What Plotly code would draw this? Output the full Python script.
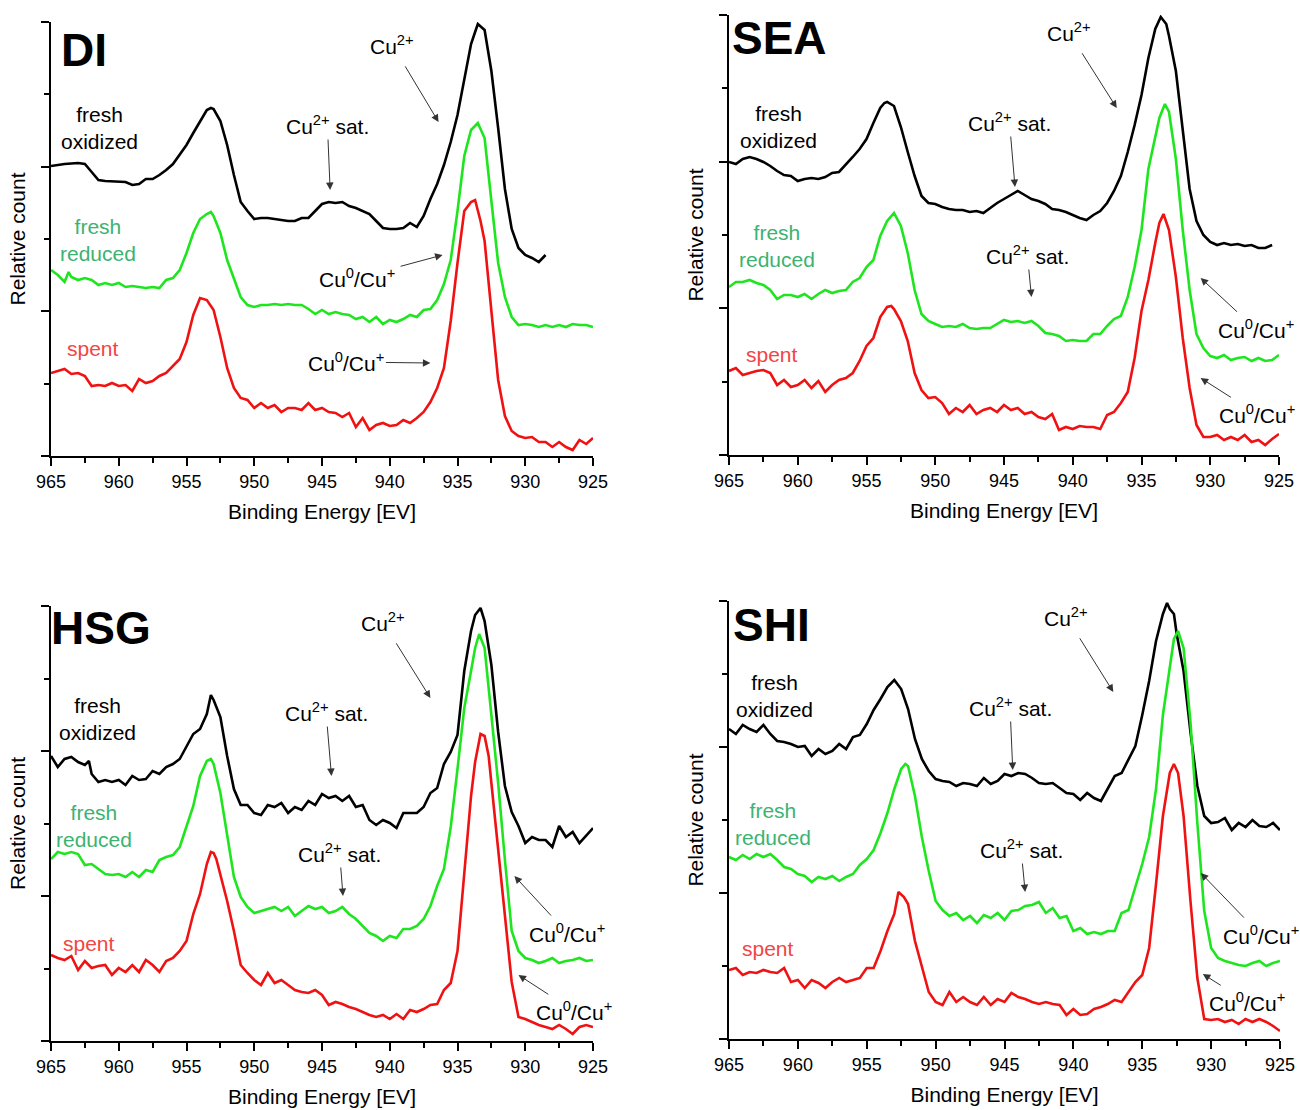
import plotly.graph_objects as go

# ---------------- data: (binding energy [eV], relative count [a.u.]) ----------------
di_fresh_ox = [(965,290),(964,292),(963,293),(962.5,292),(962,284),(961.5,276),(961,275),(960,274),(959.5,274),(959,271),
    (958.5,272),(958,277),(957.5,277),(957,281),(956.5,286),(956,292),(955.5,301),(955,311),(954.5,323),(954,335),
    (953.5,346),(953.2,348),(953,347),(952.5,335),(952,311),(951.5,281),(951,254),(950.5,245),(950,237),(949.5,238),
    (949,238),(948.5,237),(948,236),(947.5,235),(947,235),(946.5,238),(946,238),(945.5,245),(945,252),(944.5,254),
    (944,253),(943.5,254),(943,250),(942.5,248),(942,245),(941.5,242),(941,235),(940.5,228),(940,227),(939.5,227),
    (939,228),(938.5,233),(938,229),(937.5,240),(937,257),(936.5,272),(936,291),(935.5,314),(935,341),(934.5,377),
    (934,412),(933.7,424),(933.5,432),(933,426),(932.5,385),(932,328),(931.5,267),(931,227),(930.5,208),(930,201),
    (929.5,198),(929,194),(928.5,201)]
di_fresh_red = [(965,186),(964.5,181),(964,174),(963.7,184),(963.5,179),(963,176),(962.5,178),(962,176),(961.5,171),(961,173),
    (960.5,171),(960,173),(959.5,169),(959,170),(958.5,169),(958,168),(957.5,169),(957,168),(956.5,176),(956,178),
    (955.5,186),(955,203),(954.5,223),(954,237),(953.5,242),(953.2,244),(953,240),(952.5,223),(952,196),(951.5,178),
    (951,159),(950.5,151),(950,149),(949.5,151),(949,151),(948.5,152),(948,151),(947.5,152),(947,151),(946.5,151),
    (946,147),(945.5,142),(945,146),(944.5,142),(944,144),(943.5,142),(943,141),(942.5,137),(942,139),(941.5,134),
    (941,139),(940.5,132),(940,136),(939.5,134),(939,137),(938.5,141),(938,139),(937.5,146),(937,147),(936.5,156),
    (936,172),(935.5,196),(935,245),(934.5,300),(934,326),(933.5,333),(933,318),(932.5,255),(932,193),(931.5,159),
    (931,139),(930.5,131),(930,132),(929.5,131),(929,129),(928.5,131),(928,129),(927.5,131),(927,129),(926.5,132),
    (926,131),(925.5,131),(925,129)]
di_spent = [(965,83),(964.5,85),(964,87),(963.5,82),(963,83),(962.5,80),(962,70),(961.5,71),(961,70),(960.5,73),
    (960,70),(959.5,71),(959,65),(958.5,77),(958,73),(957.5,75),(957,80),(956.5,83),(956,90),(955.5,97),
    (955,114),(954.5,141),(954,158),(953.5,156),(953,146),(952.5,119),(952,88),(951.5,68),(951,58),(950.5,56),
    (950,48),(949.5,53),(949,48),(948.5,51),(948,44),(947.5,48),(947,48),(946.5,46),(946,53),(945.5,46),
    (945,48),(944.5,44),(944,43),(943.5,39),(943,43),(942.5,29),(942,38),(941.5,26),(941,31),(940.5,33),
    (940,30),(939.5,31),(939,36),(938.5,33),(938,38),(937.5,44),(937,54),(936.5,68),(936,88),(935.5,135),
    (935,193),(934.5,245),(934,254),(933.7,256),(933.3,235),(933,215),(932.5,145),(932,76),(931.5,40),(931,25),
    (930.5,20),(930,18),(929.5,19),(929,14),(928.5,14),(928,9),(927.5,14),(927,9),(926.5,6),(926,16),
    (925.5,12),(925,18)]

sea_fresh_ox = [(965,293),(964.5,291),(964,296),(963.5,298),(963,296),(962.5,293),(962,289),(961.5,284),(961,280),(960.5,279),
    (960,274),(959.5,276),(959,277),(958.5,276),(958,278),(957.5,282),(957,283),(956.5,290),(956,298),(955.5,306),
    (955,316),(954.5,332),(954,347),(953.7,352),(953.5,353),(953,349),(952.5,328),(952,303),(951.5,279),(951,259),
    (950.5,252),(950,251),(949.5,248),(949,246),(948.5,245),(948,245),(947.5,243),(947,244),(946.5,242),(946,247),
    (945.5,252),(945,256),(944.5,260),(944,264),(943.5,260),(943,256),(942.5,254),(942,251),(941.5,246),(941,245),
    (940.5,243),(940,240),(939.5,237),(939,235),(938.5,240),(938,244),(937.5,252),(937,264),(936.5,279),(936,303),
    (935.5,330),(935,360),(934.5,397),(934,426),(933.6,438),(933.2,431),(933,419),(932.5,384),(932,323),(931.5,266),
    (931,234),(930.5,220),(930,213),(929.5,210),(929,212),(928.5,210),(928,211),(927.5,209),(927,210),(926.5,207),
    (926,207),(925.5,210)]
sea_fresh_red = [(965,168),(964.5,173),(964,173),(963.5,175),(963,172),(962.5,170),(962,165),(961.5,156),(961,160),(960.5,160),
    (960,158),(959.5,161),(959,156),(958.5,161),(958,165),(957.5,162),(957,164),(956.5,165),(956,173),(955.5,177),
    (955,188),(954.5,195),(954,219),(953.5,234),(953,242),(952.5,229),(952,202),(951.5,165),(951,141),(950.5,134),
    (950,131),(949.5,128),(949,129),(948.5,128),(948,131),(947.5,127),(947,126),(946.5,127),(946,127),(945.5,131),
    (945,135),(944.5,133),(944,134),(943.5,132),(943,134),(942.5,129),(942,122),(941.5,121),(941,119),(940.5,114),
    (940,115),(939.5,114),(939,114),(938.5,121),(938,121),(937.5,129),(937,136),(936.5,139),(936,158),(935.5,188),
    (935,225),(934.5,286),(934,318),(933.7,337),(933.3,351),(933,343),(932.5,296),(932,225),(931.5,165),(931,121),
    (930.5,107),(930,99),(929.5,97),(929,100),(928.5,95),(928,97),(927.5,98),(927,94),(926.5,97),(926,94),
    (925.5,95),(925,100)]
sea_spent = [(965,84),(964.5,87),(964,80),(963.5,82),(963,84),(962.5,85),(962,82),(961.5,70),(961,75),(960.5,68),
    (960,70),(959.5,75),(959,67),(958.5,74),(958,63),(957.5,70),(957,75),(956.5,77),(956,82),(955.5,94),
    (955,109),(954.5,117),(954,138),(953.5,148),(953.2,149),(953,146),(952.5,134),(952,114),(951.5,82),(951,65),
    (950.5,57),(950,58),(949.5,52),(949,41),(948.5,47),(948,43),(947.5,50),(947,41),(946.5,45),(946,47),
    (945.5,43),(945,50),(944.5,45),(944,47),(943.5,41),(943,43),(942.5,38),(942,36),(941.5,41),(941,25),
    (940.5,28),(940,26),(939.5,29),(939,28),(938.5,28),(938,26),(937.5,40),(937,43),(936.5,52),(936,63),
    (935.5,97),(935,144),(934.5,175),(934,212),(933.7,232),(933.4,241),(933,225),(932.5,178),(932,117),(931.5,67),
    (931,30),(930.5,18),(930,18),(929.5,20),(929,15),(928.5,18),(928,15),(927.5,20),(927,13),(926.5,15),
    (926,10),(925.5,16),(925,21)]

hsg_fresh_ox = [(965,285),(964.5,274),(964,282),(963.5,284),(963,279),(962.5,276),(962.2,280),(962,267),(961.5,259),(961,261),
    (960.5,259),(960,261),(959.5,256),(959,265),(958.5,261),(958,262),(957.5,270),(957,267),(956.5,274),(956,277),
    (955.5,282),(955,294),(954.5,307),(954,312),(953.5,327),(953.2,346),(953,341),(952.5,324),(952,285),(951.5,252),
    (951,236),(950.5,236),(950,228),(949.5,226),(949,236),(948.5,234),(948,238),(947.5,228),(947,234),(946.5,231),
    (946,240),(945.5,236),(945,247),(944.5,243),(944,245),(943.5,240),(943,245),(942.5,234),(942,236),(941.5,221),
    (941,216),(940.5,221),(940,218),(939.5,213),(939,228),(938.5,228),(938,228),(937.5,234),(937,248),(936.5,253),
    (936,277),(935.5,289),(935,306),(934.5,370),(934,410),(933.7,426),(933.3,433),(933,420),(932.5,376),(932,309),
    (931.5,255),(931,229),(930.5,215),(930,198),(929.5,204),(929,201),(928.5,201),(928,194),(927.5,215),(927,204),
    (926.5,209),(926,198),(925.5,206),(925,213)]
hsg_fresh_red = [(965,182),(964.5,189),(964,187),(963.5,189),(963,187),(962.5,176),(962,177),(961.5,172),(961,167),(960.5,166),
    (960,167),(959.5,164),(959,169),(958.5,164),(958,171),(957.5,169),(957,181),(956.5,184),(956,186),(955.5,194),
    (955,214),(954.5,235),(954,265),(953.5,280),(953.2,282),(953,277),(952.5,248),(952,204),(951.5,164),(951,144),
    (950.5,134),(950,128),(949.5,130),(949,132),(948.5,134),(948,130),(947.5,134),(947,125),(946.5,130),(946,135),
    (945.5,132),(945,134),(944.5,128),(944,130),(943.5,134),(943,127),(942.5,122),(942,115),(941.5,108),(941,105),
    (940.5,100),(940,105),(939.5,103),(939,112),(938.5,112),(938,115),(937.5,122),(937,135),(936.5,155),(936,172),
    (935.5,214),(935,272),(934.5,333),(934,370),(933.7,393),(933.4,407),(933,393),(932.5,326),(932,258),(931.5,181),
    (931,110),(930.5,90),(930,83),(929.5,81),(929,78),(928.5,80),(928,83),(927.5,78),(927,80),(926.5,81),
    (926,83),(925.5,80),(925,81)]
hsg_spent = [(965,86),(964.5,83),(964,81),(963.5,85),(963,71),(962.5,80),(962,73),(961.5,75),(961,76),(960.5,66),
    (960,73),(959.5,69),(959,76),(958.5,69),(958,81),(957.5,76),(957,69),(956.5,80),(956,83),(955.5,90),
    (955,100),(954.5,127),(954,147),(953.5,177),(953.2,189),(953,188),(952.8,182),(952.5,167),(952,140),(951.5,110),
    (951,76),(950.5,68),(950,61),(949.5,56),(949,68),(948.5,58),(948,61),(947.5,56),(947,51),(946.5,49),
    (946,48),(945.5,51),(945,46),(944.5,36),(944,39),(943.5,37),(943,34),(942.5,32),(942,29),(941.5,26),
    (941,24),(940.5,26),(940,22),(939.5,27),(939,22),(938.5,31),(938,29),(937.5,32),(937,36),(936.5,37),
    (936,51),(935.5,58),(935,90),(934.5,164),(934,245),(933.7,279),(933.3,307),(933,305),(932.7,285),(932.5,258),
    (932,194),(931.5,123),(931,59),(930.5,24),(930,22),(929.5,19),(929,16),(928.5,14),(928,12),(927.5,16),
    (927,12),(926.5,7),(926,14),(925.5,16),(925,14)]

shi_fresh_ox = [(965,310),(964.5,305),(964,314),(963.5,310),(963,307),(962.5,314),(962,305),(961.5,298),(961,297),(960.5,295),
    (960,292),(959.5,293),(959,283),(958.5,290),(958,285),(957.5,288),(957,295),(956.5,290),(956,302),(955.5,304),
    (955,315),(954.5,329),(954,340),(953.5,352),(953,359),(952.5,350),(952,330),(951.5,300),(951,280),(950.5,268),
    (950,260),(949.5,258),(949,257),(948.5,253),(948,256),(947.5,255),(947,253),(946.5,261),(946,255),(945.5,258),
    (945,265),(944.5,263),(944,266),(943.5,265),(943,261),(942.5,256),(942,255),(941.5,256),(941,251),(940.5,246),
    (940,245),(939.5,239),(939,246),(938.5,241),(938,238),(937.5,250),(937,263),(936.5,266),(936,280),(935.5,293),
    (935,324),(934.5,358),(934,398),(933.5,425),(933.2,436),(933,430),(932.7,425),(932.5,405),(932,368),(931.5,307),
    (931,253),(930.5,223),(930,216),(929.5,217),(929,221),(928.5,209),(928,216),(927.5,212),(927,219),(926.5,213),
    (926,212),(925.5,216),(925,209)]
shi_fresh_red = [(965,182),(964.5,179),(964,184),(963.5,180),(963,185),(962.5,182),(962,185),(961.5,179),(961,172),(960.5,170),
    (960,165),(959.5,163),(959,157),(958.5,162),(958,160),(957.5,163),(957,158),(956.5,162),(956,165),(955.5,174),
    (955,180),(954.5,189),(954,206),(953.5,226),(953,250),(952.5,270),(952.2,275),(952,273),(951.5,243),(951,202),
    (950.5,168),(950,138),(949.5,129),(949,123),(948.5,126),(948,119),(947.5,123),(947,116),(946.5,124),(946,121),
    (945.5,126),(945,119),(944.5,128),(944,129),(943.5,133),(943,134),(942.5,137),(942,126),(941.5,131),(941,121),
    (940.5,123),(940,108),(939.5,111),(939,105),(938.5,107),(938,105),(937.5,108),(937,108),(936.5,126),(936,129),
    (935.5,152),(935,175),(934.5,202),(934,250),(933.5,324),(933,374),(932.7,400),(932.4,408),(932,391),(931.5,317),
    (931,216),(930.5,128),(930,91),(929.5,81),(929,78),(928.5,76),(928,74),(927.5,73),(927,76),(926.5,78),
    (926,73),(925.5,76),(925,78)]
shi_spent = [(965,69),(964.5,71),(964,64),(963.5,67),(963,66),(962.5,69),(962,67),(961.5,66),(961,71),(960.5,57),
    (960,59),(959.5,51),(959,59),(958.5,56),(958,51),(957.5,57),(957,61),(956.5,57),(956,59),(955.5,61),
    (955,71),(954.5,71),(954,88),(953.5,108),(953,125),(952.7,147),(952.3,142),(952,135),(951.5,98),(951,71),
    (950.5,47),(950,37),(949.5,34),(949,47),(948.5,37),(948,42),(947.5,37),(947,34),(946.5,42),(946,34),
    (945.5,40),(945,37),(944.5,46),(944,42),(943.5,40),(943,37),(942.5,35),(942,37),(941.5,35),(941,34),
    (940.5,24),(940,30),(939.5,24),(939,25),(938.5,30),(938,32),(937.5,35),(937,39),(936.5,37),(936,47),
    (935.5,57),(935,64),(934.5,91),(934,155),(933.5,223),(933,266),(932.7,275),(932.4,266),(932,223),(931.5,138),
    (931,61),(930.5,20),(930,19),(929.5,20),(929,17),(928.5,19),(928,15),(927.5,20),(927,17),(926.5,20),
    (926,17),(925.5,13),(925,8)]

x_ticks = [965, 960, 955, 950, 945, 940, 935, 930, 925]
x_minor = [962.5, 957.5, 952.5, 947.5, 942.5, 937.5, 932.5, 927.5]
x_title = "Binding Energy [EV]"
y_title = "Relative count"

# ---------------- styling ----------------
FONT = "Liberation Sans, Arial, Helvetica, sans-serif"
LINE_COLORS = {"ox": "#000000", "red": "#1ee61e", "spent": "#f01212"}
LBL_GREEN = "#3cb371"
LBL_RED = "#f24545"
ARROW = "#333333"

CU2 = "Cu<sup>2+</sup>"
SAT = "Cu<sup>2+</sup> sat."
CU0 = "Cu<sup>0</sup>/Cu<sup>+</sup>"

# each text: (label, text x, text y, arrow head x or None, arrow head y, start standoff px)
panels = [
    dict(name="DI", xdom=[51/1300, 593/1300], ydom=[1-456/1110, 1-22/1110], H=434,
         series=[(di_fresh_ox, "ox"), (di_fresh_red, "red"), (di_spent, "spent")],
         title_pos=(962.6, 406), ox_pos=(961.4, 328), red_pos=(961.5, 216), spent_pos=(961.9, 108),
         texts=[(CU2, 939.8, 411, 936.4, 334, 8), (SAT, 944.6, 331, 944.4, 266, 0),
                (CU0, 942.4, 178, 936.1, 201, 4), (CU0, 943.2, 94, 937.0, 93, 0)]),
    dict(name="SEA", xdom=[729/1300, 1279/1300], ydom=[1-455/1110, 1-15/1110], H=440,
         series=[(sea_fresh_ox, "ox"), (sea_fresh_red, "red"), (sea_spent, "spent")],
         title_pos=(961.3, 417), ox_pos=(961.4, 328), red_pos=(961.5, 209), spent_pos=(961.9, 100),
         texts=[(CU2, 940.3, 423, 936.8, 347, 8), (SAT, 944.6, 333, 944.2, 268, 0), (SAT, 943.3, 200, 943.0, 158, 0),
                (CU0, 926.7, 126, 930.7, 177, 4), (CU0, 926.6, 41, 930.7, 77, 4)]),
    dict(name="HSG", xdom=[51/1300, 593/1300], ydom=[1-1041/1110, 1-606/1110], H=435,
         series=[(hsg_fresh_ox, "ox"), (hsg_fresh_red, "red"), (hsg_spent, "spent")],
         title_pos=(961.3, 413), ox_pos=(961.6, 322), red_pos=(961.8, 215), spent_pos=(962.2, 98),
         texts=[(CU2, 940.5, 419, 937.0, 343, 8), (SAT, 944.7, 329, 944.3, 265, 0), (SAT, 943.7, 188, 943.45, 145, 0),
                (CU0, 926.9, 108, 930.8, 165, 4), (CU0, 926.4, 30, 930.5, 66, 4)]),
    dict(name="SHI", xdom=[729/1300, 1280/1300], ydom=[1-1039/1110, 1-601/1110], H=438,
         series=[(shi_fresh_ox, "ox"), (shi_fresh_red, "red"), (shi_spent, "spent")],
         title_pos=(961.9, 414), ox_pos=(961.7, 343), red_pos=(961.8, 215), spent_pos=(962.2, 91),
         texts=[(CU2, 940.5, 422, 937.1, 347, 8), (SAT, 944.6, 332, 944.4, 269, 0), (SAT, 943.8, 190, 943.5, 147, 0),
                (CU0, 926.4, 104, 930.75, 166, 4), (CU0, 927.4, 37, 930.6, 65, 4)]),
]

fig = go.Figure()
layout = dict(width=1300, height=1110, margin=dict(l=0, r=0, t=0, b=0, autoexpand=False),
              paper_bgcolor="white", plot_bgcolor="white", showlegend=False,
              font=dict(family=FONT, size=18, color="black"))
annotations = []

for i, p in enumerate(panels, start=1):
    xa = "x" if i == 1 else f"x{i}"
    ya = "y" if i == 1 else f"y{i}"
    for pts, key in p["series"]:
        ev = [a for a, b in pts]
        cnt = [b for a, b in pts]
        fig.add_trace(go.Scatter(x=ev, y=cnt, mode="lines", xaxis=xa, yaxis=ya,
                                 line=dict(color=LINE_COLORS[key], width=2.6),
                                 hoverinfo="skip", showlegend=False))
    H = p["H"]
    layout["xaxis" if i == 1 else f"xaxis{i}"] = dict(
        domain=p["xdom"], anchor=ya, range=[965, 925], tickmode="array", tickvals=x_ticks,
        ticks="outside", ticklen=8, tickwidth=2, tickcolor="black", automargin=False,
        minor=dict(tickmode="array", tickvals=x_minor, ticks="outside", ticklen=5, tickwidth=1.5, tickcolor="black"),
        showline=True, linewidth=2, linecolor="black", showgrid=False, zeroline=False,
        tickfont=dict(family=FONT, size=18, color="black"),
        title=dict(text=x_title, font=dict(family=FONT, size=21, color="black"), standoff=14))
    layout["yaxis" if i == 1 else f"yaxis{i}"] = dict(
        domain=p["ydom"], anchor=xa, range=[0, H], tickmode="array",
        tickvals=[0, H/3, 2*H/3, H], showticklabels=False, automargin=False,
        ticks="outside", ticklen=8, tickwidth=2, tickcolor="black",
        minor=dict(tickmode="array", tickvals=[H/6, H/2, 5*H/6], ticks="outside", ticklen=5, tickwidth=1.5, tickcolor="black"),
        showline=True, linewidth=2, linecolor="black", showgrid=False, zeroline=False,
        title=dict(text=y_title, font=dict(family=FONT, size=21, color="black"), standoff=10))

    def txt(text, x, y, size=21, color="black", bold=False):
        annotations.append(dict(xref=xa, yref=ya, x=x, y=y, text=f"<b>{text}</b>" if bold else text,
                                showarrow=False, xanchor="center", yanchor="middle",
                                font=dict(family=FONT, size=size, color=color)))

    txt(p["name"], *p["title_pos"], size=46, bold=True)
    txt("fresh<br>oxidized", *p["ox_pos"])
    txt("fresh<br>reduced", *p["red_pos"], color=LBL_GREEN)
    txt("spent", *p["spent_pos"], color=LBL_RED)
    for t, tx, ty, hx, hy, sso in p["texts"]:
        annotations.append(dict(xref=xa, yref=ya, axref=xa, ayref=ya, x=hx, y=hy, ax=tx, ay=ty,
                                text=t, showarrow=True, arrowhead=2, arrowsize=1.5, arrowwidth=1,
                                arrowcolor=ARROW, standoff=0, startstandoff=sso,
                                font=dict(family=FONT, size=21, color="black")))

layout["annotations"] = annotations
fig.update_layout(**layout)
fig.write_html("out.html")
